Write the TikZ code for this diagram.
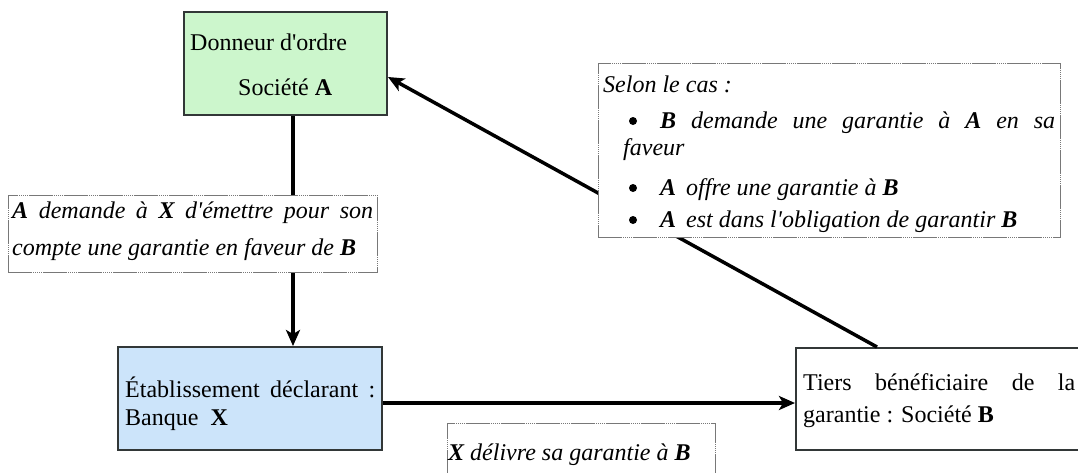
\documentclass[tikz,border=0pt]{standalone}
\usepackage{fontspec}
\setmainfont{Liberation Serif}[Ligatures=TeXOff]
\usetikzlibrary{arrows.meta}
\definecolor{boxgreen}{RGB}{204,246,204}
\definecolor{boxblue}{RGB}{204,228,250}
\definecolor{boxline}{RGB}{50,55,55}
\definecolor{lblline}{RGB}{120,120,120}
\tikzset{
  mainbox/.style={draw=boxline, line width=2pt, rectangle, inner sep=0pt},
  lblbox/.style={draw=lblline, fill=white, line width=1pt, rectangle, inner sep=0pt,
    dash pattern=on 24pt off 1pt on 1pt off 1pt on 1pt off 1pt on 1pt off 1pt on 1pt off 1pt on 1pt off 1pt},
  txt/.style={anchor=base west, inner sep=0pt, font=\fontsize{24}{28}\selectfont},
  itxt/.style={txt, font=\fontsize{24}{28}\selectfont\itshape},
  bul/.style={circle, fill=black, inner sep=0pt, minimum size=8pt},
  conn/.style={line width=3.5pt, black},
  arr/.style={conn, -{Stealth[length=16pt,width=14pt,inset=4pt]}},
}
\begin{document}
\begin{tikzpicture}[x=1pt,y=-1pt]
\useasboundingbox (0,0) rectangle (1078,472);
\clip (0,0) rectangle (1078,472);
% boxes
\node[mainbox, fill=boxgreen, minimum width=203pt, minimum height=103pt] (A) at (285.5,63.5) {};
\node[mainbox, fill=boxblue, minimum width=264pt, minimum height=103pt] (X) at (250,398.5) {};
\node[mainbox, fill=white, minimum width=294pt, minimum height=102pt] (B) at (943,399) {};
% connectors
\coordinate (vx) at (293,0);
\coordinate (hy) at (0,403);
\coordinate (dgB) at (877,0);
\coordinate (dgA) at (0,77);
\draw[arr] (B.north -| dgB) -- (A.east |- dgA);
\draw[conn] (A.south -| vx) -- (293,195);
\draw[arr] (293,272) -- (X.north -| vx);
\draw[arr] (X.east |- hy) -- (B.west |- hy);
% label boxes
\node[lblbox, minimum width=369pt, minimum height=77pt] (L1) at (192.5,233.5) {};
\node[lblbox, minimum width=462pt, minimum height=174pt] (L2) at (829,150) {};
\node[lblbox, minimum width=268pt, minimum height=67pt] (L3) at (581,456.5) {};
% texts
\node[txt] (tA1) at (190,50) {Donneur d'ordre};
\node[txt] (tA2) at (238,95) {Société \textbf{A}};
\node[txt] (tX1) at (125,397) {\hbox to 250pt{Établissement\hfill déclarant\hfill :}};
\node[txt] (tX2) at (125,425) {Banque\hspace{12pt}\textbf{X}};
\node[txt] (tB1) at (803,390) {\hbox to 272pt{Tiers\hfill bénéficiaire\hfill de\hfill la}};
\node[txt] (tB2) at (803,422) {garantie : Société \textbf{B}};
\node[itxt] (tL11) at (12,218) {\hbox to 361pt{\textbf{A}\hfill demande\hfill à\hfill \textbf{X}\hfill d'émettre\hfill pour\hfill son}};
\node[itxt] (tL12) at (12,255) {compte une garantie en faveur de \textbf{B}};
\node[itxt] (tL20) at (603,92) {Selon le cas :};
\node[bul] (bu1) at (633,121) {};
\node[itxt] (tL21) at (660,128) {\hbox to 395pt{\textbf{B}\hfill demande\hfill une\hfill garantie\hfill à\hfill \textbf{A}\hfill en\hfill sa}};
\node[itxt] (tL22) at (623,155) {faveur};
\node[bul] (bu2) at (633,188) {};
\node[itxt] (tL23) at (660,195) {\textbf{A}\hspace{10pt}offre une garantie à \textbf{B}};
\node[bul] (bu3) at (633,220) {};
\node[itxt] (tL24) at (660,227) {\textbf{A}\hspace{10pt}est dans l'obligation de garantir \textbf{B}};
\node[itxt] (tL3) at (448,460) {\textbf{X} délivre sa garantie à \textbf{B}};
\end{tikzpicture}
\end{document}
